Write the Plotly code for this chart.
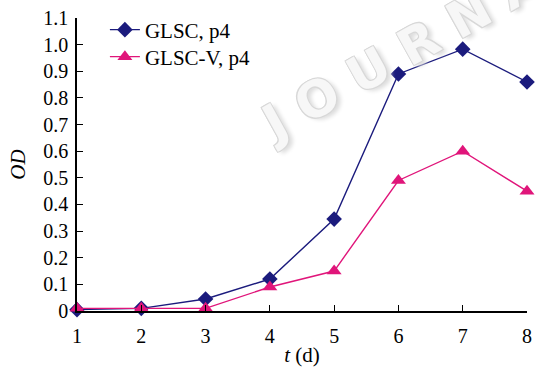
import plotly.graph_objects as go

days = [1, 2, 3, 4, 5, 6, 7, 8]
glsc = [0.005, 0.01, 0.045, 0.12, 0.345, 0.89, 0.983, 0.86]
glsc_v = [0.01, 0.01, 0.01, 0.09, 0.15, 0.49, 0.60, 0.45]
y_ticks = [0, 0.1, 0.2, 0.3, 0.4, 0.5, 0.6, 0.7, 0.8, 0.9, 1.0, 1.1]
y_labels = ["0", "0.1", "0.2", "0.3", "0.4", "0.5", "0.6", "0.7", "0.8", "0.9", "1.0", "1.1"]

font = "Liberation Serif, Times New Roman, serif"
navy = "#1b1b7d"
magenta = "#e0157a"

fig = go.Figure()
fig.add_trace(go.Scatter(
    x=days, y=glsc, name="GLSC, p4", mode="lines+markers", legend="legend",
    line=dict(color=navy, width=1.4),
    marker=dict(symbol="diamond", size=12, color=navy),
    cliponaxis=False,
))
fig.add_trace(go.Scatter(
    x=days, y=glsc_v, name="GLSC-V, p4", mode="lines+markers", legend="legend2",
    line=dict(color=magenta, width=1.4),
    marker=dict(symbol="triangle-up", size=13, color=magenta),
    cliponaxis=False,
))

fig.add_annotation(
    text="J O U R N A L", x=(426 - 77) / 455, y=(311 - 41) / 293,
    xref="paper", yref="paper", xanchor="center", yanchor="middle",
    showarrow=False, textangle=-29,
    font=dict(family="DejaVu Sans, sans-serif", size=50, weight="bold",
              color="#f7f7f7",
              shadow="-1px -1px 0 #d8d8d8, 1px -1px 0 #d8d8d8, -1px 1px 0 #d8d8d8, 1px 1px 0 #d8d8d8, 3px 4px 4px #dcdcdc"),
)

legend_common = dict(xanchor="left", yanchor="middle", bgcolor="rgba(0,0,0,0)",
                     font=dict(size=21, family=font), itemwidth=30)

fig.update_layout(
    width=536, height=378,
    margin=dict(l=77, r=4, t=18, b=67),
    paper_bgcolor="white", plot_bgcolor="white",
    font=dict(family=font, size=20, color="black"),
    showlegend=True,
    legend=dict(x=0.062, y=(311 - 30) / 293, **legend_common),
    legend2=dict(x=0.062, y=(311 - 57) / 293, **legend_common),
    xaxis=dict(range=[1, 8], tickvals=days, ticktext=[str(d) for d in days],
               showgrid=False, zeroline=False, showline=True, linecolor="black",
               linewidth=1.6, ticks="inside", ticklen=6, tickcolor="black", tickwidth=1.3,
               ticklabelstandoff=6, ticklabeloverflow="allow",
               title=dict(text="<i>t</i> (d)", standoff=2, font=dict(size=21)),
               tickfont=dict(size=20)),
    yaxis=dict(range=[0, 1.1], tickvals=y_ticks, ticktext=y_labels,
               showgrid=False, zeroline=False, showline=True, linecolor="black",
               linewidth=1.6, ticks="inside", ticklen=6, tickcolor="black", tickwidth=1.3,
               ticklabelstandoff=3,
               title=dict(text="<i>OD</i>", standoff=12, font=dict(size=21)),
               tickfont=dict(size=20)),
)

fig.write_html("out.html", config={"displayModeBar": False},
               post_script="document.body.style.margin='0';")
